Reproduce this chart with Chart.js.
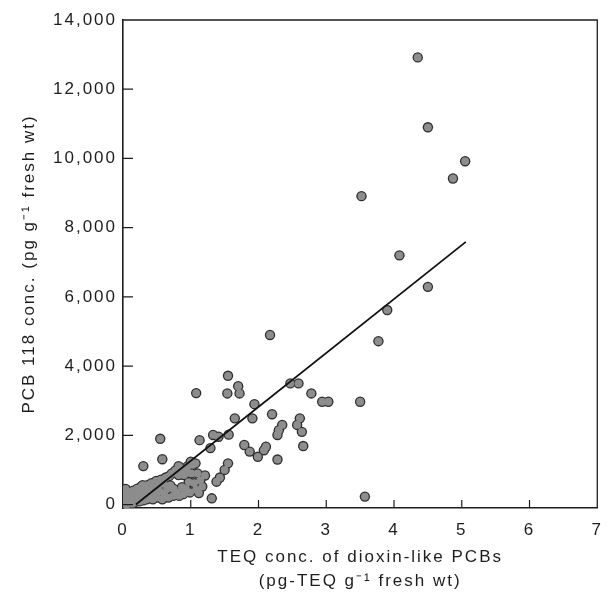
<!DOCTYPE html>
<html><head><meta charset="utf-8">
<script src="https://cdn.jsdelivr.net/npm/chart.js@4.4.1/dist/chart.umd.min.js"></script>
<style>html,body{margin:0;padding:0;background:#fff}canvas{display:block}</style>
</head><body>
<canvas id="c" width="615" height="598"></canvas>
<script>
// ---- data ----
const teq = [
  4.35,4.50,5.05,4.87,3.52,4.08,4.50,3.90,3.77,2.17,3.50,3.57,2.94,3.03,
  1.55,1.70,1.72,1.54,1.08,1.94,2.47,2.59,2.78,1.65,1.91,2.20,2.35,2.61,2.57,2.28,2.30,2.64,2.66,
  1.13,1.33,1.41,1.56,1.29,1.79,1.87,1.99,2.08,2.11,2.28,1.55,1.50,1.43,1.38,1.21,1.31,
  0.55,0.58,0.30,0.82,0.92,1.00,1.07,1.02,0.92,
  0.01,0.02,0.02,0.03,0.04,0.05,0.06,0.07,0.08,0.09,0.10,0.11,0.12,0.13,0.14,0.15,0.04,0.16,
  0.18,0.19,0.21,0.22,0.24,0.25,0.27,0.28,0.30,0.31,0.33,0.35,0.36,0.38,0.40,0.29,
  0.42,0.44,0.45,0.47,0.49,0.50,0.52,0.54,0.56,0.58,0.60,0.61,0.63,0.65,0.67,0.68,0.70,
  0.72,0.74,0.75,0.77,0.79,0.83,0.85,0.87,0.89,0.90,0.93,0.95,0.97,0.99,1.01,1.03,0.82,
  1.05,1.08,1.10,1.12,1.14,1.17
];
const pcb118 = [
  12920,10900,9920,9420,8910,7200,6290,5620,4720,4900,2970,230,2970,2970,
  3720,3420,3210,3210,3220,2900,3500,3500,3210,2490,2490,2610,2300,2490,2300,2010,2150,2100,1690,
  1860,2010,1960,2020,1630,1720,1530,1380,1570,1670,1300,1190,1000,780,660,840,180,
  1900,1310,1110,1110,1000,1240,1190,1190,900,
  20,150,300,80,220,380,0,130,280,60,200,360,100,260,30,400,450,180,
  80,330,460,200,90,380,520,250,120,450,300,150,560,400,200,560,
  620,150,480,300,680,200,550,380,720,150,600,300,780,450,200,820,550,
  900,250,450,980,350,250,1050,500,300,850,450,1100,650,350,900,1150,850,
  620,430,900,330,700,520
];
const fitTeq = [0.19, 5.06];
const fitPcb = [0, 7590];
const xTicks = [0, 1, 2, 3, 4, 5, 6, 7];
const yTicks = [0, 2000, 4000, 6000, 8000, 10000, 12000, 14000];
const yTickLabels = ['0', '2,000', '4,000', '6,000', '8,000', '10,000', '12,000', '14,000'];
const xTitle = ['TEQ conc. of dioxin-like PCBs', '(pg-TEQ g\u207B\u00B9 fresh wt)'];
const yTitle = 'PCB 118 conc. (pg g\u207B\u00B9 fresh wt)';

const points = teq.map((x, i) => ({x: x, y: pcb118[i]}));
const fitLine = fitTeq.map((x, i) => ({x: x, y: fitPcb[i]}));
const FONT = '"Liberation Sans", Arial, Helvetica, sans-serif';
const INK = '#1e1e1e';

const spacing = {
  id: 'spacing',
  beforeUpdate(chart) { chart.ctx.letterSpacing = '2px'; },
  beforeDraw(chart) { chart.ctx.letterSpacing = '2px'; }
};

const frame = {
  id: 'frame',
  afterDraw(chart) {
    const {ctx, chartArea: a, scales} = chart;
    ctx.save();
    ctx.strokeStyle = INK;
    ctx.lineWidth = 1.3;
    ctx.beginPath();
    ctx.moveTo(a.left, a.top); ctx.lineTo(a.right, a.top); ctx.lineTo(a.right, a.bottom);
    ctx.stroke();
    ctx.lineWidth = 1.2;
    ctx.beginPath();
    xTicks.forEach(v => {
      if (v === 0 || v === 7) return;
      const px = scales.x.getPixelForValue(v);
      ctx.moveTo(px, a.bottom); ctx.lineTo(px, a.bottom - 8);
    });
    yTicks.forEach(v => {
      if (v === 14000) return;
      const py = scales.y.getPixelForValue(v);
      ctx.moveTo(a.left, py); ctx.lineTo(a.left + 10, py);
    });
    ctx.stroke();
    ctx.restore();
  }
};

new Chart(document.getElementById('c'), {
  type: 'scatter',
  data: {
    datasets: [
      {type: 'line', data: fitLine, borderColor: '#111', borderWidth: 1.8, pointRadius: 0, fill: false, order: 0},
      {data: points, pointRadius: 3.9, pointBackgroundColor: '#8d8d8d', pointBorderWidth: 0, order: 1},
      {data: points, pointRadius: 5.2, pointBackgroundColor: '#2e2e2e', pointBorderWidth: 0, order: 2}
    ]
  },
  options: {
    responsive: false,
    animation: false,
    events: [],
    layout: {padding: {top: 20, right: 9, left: 0, bottom: 0}},
    plugins: {legend: {display: false}, tooltip: {enabled: false}},
    scales: {
      x: {
        type: 'linear', min: 0, max: 7,
        afterBuildTicks: s => { s.ticks = xTicks.map(v => ({value: v})); },
        afterFit: s => { s.height = 90; },
        grid: {display: false, drawTicks: false},
        border: {display: true, color: INK, width: 1.6},
        ticks: {color: INK, padding: 12, font: {family: FONT, size: 17}, callback: v => String(v)},
        title: {display: true, text: xTitle, color: INK, font: {family: FONT, size: 17, lineHeight: 1.41}, padding: {top: 0, bottom: 5}}
      },
      y: {
        type: 'linear', min: -100, max: 14000,
        afterBuildTicks: s => { s.ticks = yTicks.map(v => ({value: v})); },
        afterFit: s => { s.width = 123; },
        grid: {display: false, drawTicks: false},
        border: {display: true, color: INK, width: 1.6},
        ticks: {color: INK, padding: 6, font: {family: FONT, size: 17}, callback: v => yTickLabels[yTicks.indexOf(v)]},
        title: {display: true, text: yTitle, color: INK, font: {family: FONT, size: 17, lineHeight: 1.2}, padding: {top: 19, bottom: 0}}
      }
    }
  },
  plugins: [spacing, frame]
});
</script>
</body></html>
